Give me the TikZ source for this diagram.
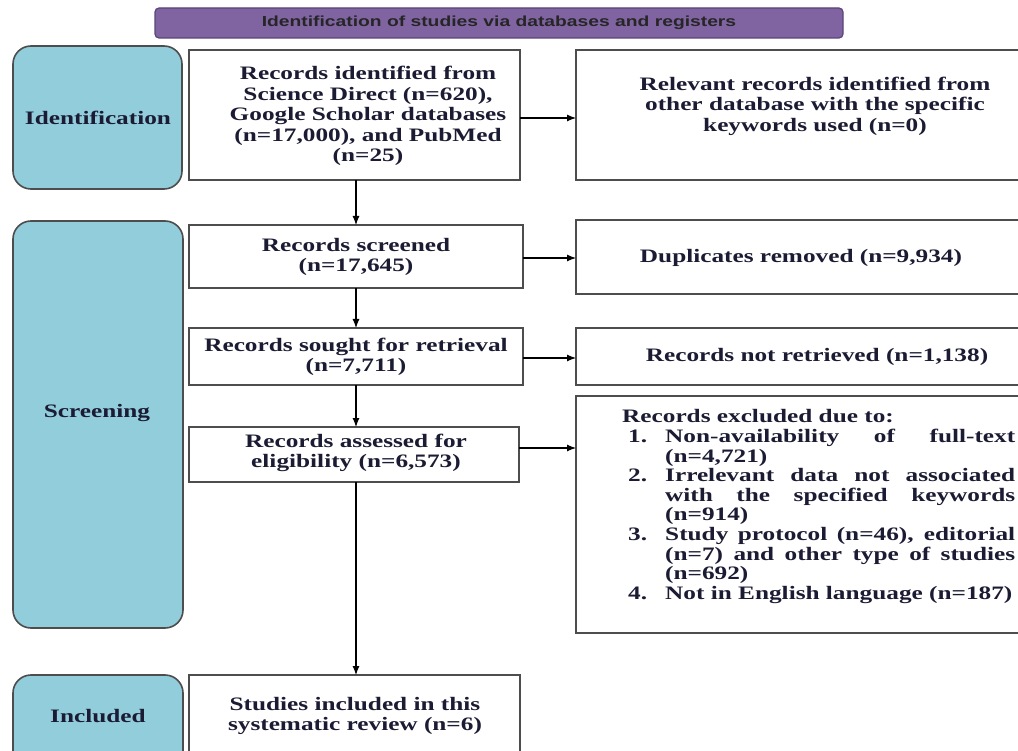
\documentclass[tikz,border=0pt]{standalone}
\usepackage{fontspec}
\setmainfont{Liberation Serif}[FakeStretch=1.33]
\newfontfamily\barfont{Liberation Sans}[FakeStretch=1.32]
\usetikzlibrary{arrows.meta}
\definecolor{txt}{HTML}{1B1B33}
\definecolor{bluefill}{HTML}{92CDDC}
\definecolor{purp}{HTML}{8064A2}
\definecolor{purpline}{HTML}{5A4578}
\definecolor{boxline}{HTML}{4D4D4D}
\newcounter{excl}
\newenvironment{excllist}{\begin{list}{\arabic{excl}.}{\usecounter{excl}%
  \setlength\leftmargin{43pt}\setlength\labelwidth{37pt}\setlength\labelsep{0pt}%
  \setlength\itemsep{0pt}\setlength\topsep{0pt}\setlength\parsep{0pt}%
  \setlength\partopsep{0pt}\renewcommand\makelabel[1]{##1\hfil}}}{\end{list}}
\begin{document}
\begin{tikzpicture}[x=1pt,y=-1pt,
  box/.style={draw=boxline, line width=1.8pt, fill=white, inner sep=0pt, outer sep=0pt},
  stage/.style={draw=boxline, line width=1.6pt, fill=bluefill, rounded corners=18pt, inner sep=0pt, outer sep=0pt},
  lbl/.style={text=txt, font=\bfseries\fontsize{19}{20.5}\selectfont, align=center, inner sep=0pt},
  arr/.style={-{Latex[length=9pt,width=7pt]}, line width=1.1pt, black}]
\useasboundingbox[fill=white] (0,0) rectangle (1018,751);
% header bar
\node[draw=purpline, line width=1.2pt, fill=purp, rounded corners=4pt, minimum width=688pt, minimum height=30pt, inner sep=0pt] (bar) at (499,23) {};
\node[text=black!85, font=\barfont\bfseries\fontsize{14.6}{16}\selectfont, inner sep=0pt] (bartxt) at (499,23) {Identification of studies via databases and registers};
% stage boxes
\node[stage, minimum width=169pt, minimum height=143pt] (idL) at (97.5,117.5) {};
\node[stage, minimum width=170pt, minimum height=407pt] (scrL) at (98,424.5) {};
\node[stage, minimum width=170pt, minimum height=105pt] (incL) at (98,727.5) {};
\node[lbl] (idLt) at (98,118) {Identification};
\node[lbl] (scrLt) at (97,413) {Screening};
\node[lbl] (incLt) at (98,716) {Included};
% left column boxes
\node[box, minimum width=331pt, minimum height=130pt] (rec) at (354.5,115) {};
\node[box, minimum width=334pt, minimum height=63pt] (scr) at (356,256.5) {};
\node[box, minimum width=334pt, minimum height=57pt] (sou) at (356,356.5) {};
\node[box, minimum width=330pt, minimum height=55pt] (ass) at (354,454.5) {};
\node[box, minimum width=331pt, minimum height=105pt] (stu) at (354.5,727.5) {};
% right column boxes
\node[box, minimum width=454pt, minimum height=130pt] (rel) at (803,115) {};
\node[box, minimum width=454pt, minimum height=74pt] (dup) at (803,257) {};
\node[box, minimum width=454pt, minimum height=57pt] (nr) at (803,356.5) {};
\node[box, minimum width=454pt, minimum height=237pt] (exc) at (803,514.5) {};
% texts
\node[lbl] (rect) at (368,116) {Records identified from\\Science Direct (n=620),\\Google Scholar databases\\(n=17,000), and PubMed\\(n=25)};
\node[lbl] (relt) at (815,106) {Relevant records identified from\\other database with the specific\\keywords used (n=0)};
\node[lbl] (scrt) at (356,257) {Records screened\\(n=17,645)};
\node[lbl] (dupt) at (801,258) {Duplicates removed (n=9,934)};
\node[lbl] (sout) at (356,357) {Records sought for retrieval\\(n=7,711)};
\node[lbl] (nrt) at (817,357) {Records not retrieved (n=1,138)};
\node[lbl] (asst) at (356,453) {Records assessed for\\eligibility (n=6,573)};
\node[lbl] (stut) at (355,716) {Studies included in this\\systematic review (n=6)};
\node[text=txt, font=\bfseries\fontsize{19}{19.6}\selectfont, text width=393pt, align=justify, inner sep=0pt, anchor=north west] (exct) at (622,409) {%
\hyphenpenalty=10000 \exhyphenpenalty=10000 \parskip=0pt
\strut Records excluded due to:\par
\begin{excllist}
\item Non-availability of full-text\linebreak (n=4,721)
\item Irrelevant data not associated\linebreak with the specified keywords\linebreak (n=914)
\item Study protocol (n=46), editorial\linebreak (n=7) and other type of studies\linebreak (n=692)
\item Not in English language (n=187)
\end{excllist}};
% connectors
\draw[arr] (rec.south -| 356,0) -- (scr.north -| 356,0);
\draw[arr] (scr.south -| 356,0) -- (sou.north -| 356,0);
\draw[arr] (sou.south -| 356,0) -- (ass.north -| 356,0);
\draw[arr] (ass.south -| 356,0) -- (stu.north -| 356,0);
\draw[arr] (rec.east |- 0,118) -- (rel.west |- 0,118);
\draw[arr] (scr.east |- 0,258) -- (dup.west |- 0,258);
\draw[arr] (sou.east |- 0,358) -- (nr.west |- 0,358);
\draw[arr] (ass.east |- 0,448) -- (exc.west |- 0,448);
\end{tikzpicture}
\end{document}
